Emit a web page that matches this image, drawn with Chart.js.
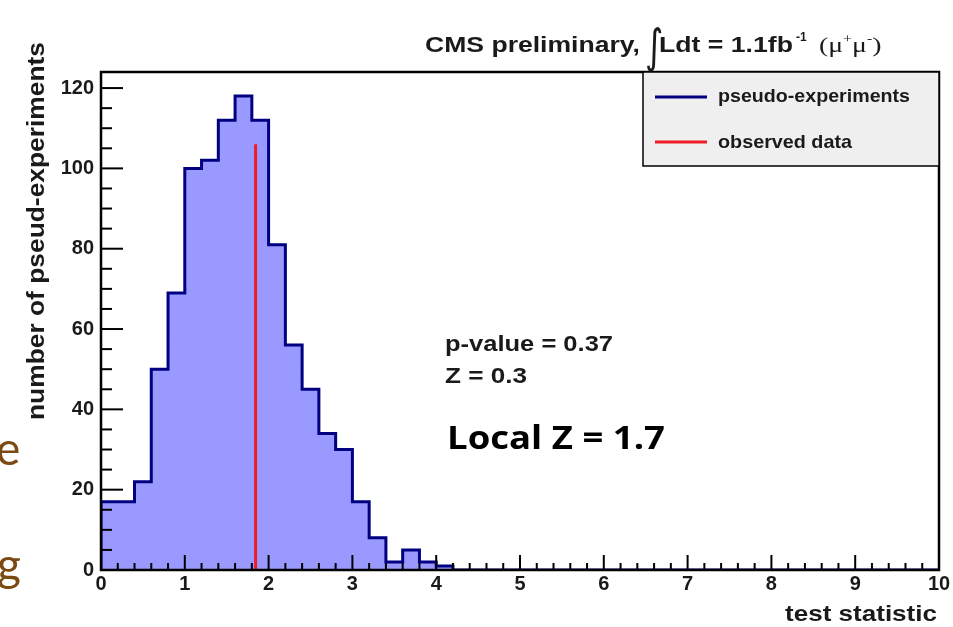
<!DOCTYPE html>
<html>
<head>
<meta charset="utf-8">
<script src="https://cdn.jsdelivr.net/npm/chart.js@4.4.1/dist/chart.umd.min.js"></script>
<style>
  html, body { margin: 0; padding: 0; background: #fff; }
</style>
</head>
<body>
<canvas id="histChart" width="953" height="627"></canvas>
<script>
// Datos del histograma (conteo por bin de 0.2)
const counts = [17, 17, 22, 50, 69, 100, 102, 112, 118, 112,
                81, 56, 45, 34, 30, 17, 8, 2, 5, 2,
                1, 0, 0, 0, 0, 0, 0, 0, 0, 0,
                0, 0, 0, 0, 0, 0, 0, 0, 0, 0,
                0, 0, 0, 0, 0, 0, 0, 0, 0, 0];
const binWidth = 0.2;
const xRange = [0, 10];
const yRange = [0, 124];
const xTickLabels = [0, 1, 2, 3, 4, 5, 6, 7, 8, 9, 10];
const yTickLabels = [0, 20, 40, 60, 80, 100, 120];
const observedX = 1.845;
const observedTop = 106;

const colors = {
    fill: '#9999ff',
    outline: '#000080',
    observed: '#ee1c25',
    text: '#1a1a1a',
    legendBg: '#efefef',
    slide: '#7a4a12'
};

const HELV = '"Liberation Sans", Arial, sans-serif';

// puntos del histograma en los bordes inferiores de cada bin
const histPoints = [{ x: xRange[0], y: 0 }];
counts.forEach(function (c, i) {
    histPoints.push({ x: xRange[0] + i * binWidth, y: c });
});
histPoints.push({ x: xRange[1], y: counts[counts.length - 1] });

const observedPoints = [{ x: observedX, y: 0 }, { x: observedX, y: observedTop }];

// texto ajustado a un ancho dado
function fitText(ctx, text, x, y, width, font) {
    ctx.font = font;
    const w = ctx.measureText(text).width;
    ctx.save();
    ctx.translate(x, y);
    ctx.scale(width / w, 1);
    ctx.textAlign = 'left';
    ctx.textBaseline = 'alphabetic';
    ctx.fillText(text, 0, 0);
    ctx.restore();
}

function seg(ctx, x1, y1, x2, y2) {
    ctx.beginPath();
    ctx.moveTo(x1, y1);
    ctx.lineTo(x2, y2);
    ctx.stroke();
}

const rootStyle = {
    id: 'rootStyle',
    beforeDraw(chart) {
        const ctx = chart.ctx;
        ctx.save();
        ctx.fillStyle = '#fff';
        ctx.fillRect(0, 0, chart.width, chart.height);
        ctx.restore();
    },
    afterDatasetsDraw(chart) {
        const ctx = chart.ctx;
        const a = chart.chartArea;
        const xs = chart.scales.x;
        const ys = chart.scales.y;
        ctx.save();

        // ticks hacia adentro
        ctx.strokeStyle = '#000';
        ctx.lineWidth = 2;
        for (let v = 0; v <= yTickLabels[yTickLabels.length - 1]; v += 5) {
            const py = ys.getPixelForValue(v);
            seg(ctx, a.left, py, a.left + (v % 20 === 0 ? 22 : 11), py);
        }
        for (let k = 0; k <= 50; k++) {
            const px = xs.getPixelForValue(k * binWidth);
            seg(ctx, px, a.bottom, px, a.bottom - (k % 5 === 0 ? 15 : 7));
        }

        // marco
        ctx.lineWidth = 2.5;
        ctx.strokeRect(a.left, a.top, a.right - a.left, a.bottom - a.top);

        // leyenda
        ctx.fillStyle = colors.legendBg;
        ctx.fillRect(643, a.top, a.right - 643, 94);
        ctx.lineWidth = 1.5;
        ctx.strokeRect(643, a.top, a.right - 643, 94);
        ctx.lineWidth = 3;
        ctx.strokeStyle = colors.outline;
        seg(ctx, 655, 97, 707, 97);
        ctx.strokeStyle = colors.observed;
        seg(ctx, 655, 142, 707, 142);
        ctx.fillStyle = colors.text;
        fitText(ctx, 'pseudo-experiments', 718, 102, 192, 'bold 19px ' + HELV);
        fitText(ctx, 'observed data', 718, 148, 134, 'bold 19px ' + HELV);

        // anotaciones
        fitText(ctx, 'p-value = 0.37', 445, 351, 168, 'bold 22px ' + HELV);
        fitText(ctx, 'Z = 0.3', 445, 383, 82, 'bold 22px ' + HELV);
        ctx.fillStyle = '#000';
        fitText(ctx, 'Local Z = 1.7', 447, 449, 218, 'bold 32px "Open Sans", sans-serif');

        // título
        ctx.fillStyle = colors.text;
        fitText(ctx, 'CMS preliminary,', 425, 52, 215, 'bold 22px ' + HELV);
        ctx.save();
        ctx.translate(645, 62);
        ctx.scale(0.8, 1.05);
        ctx.font = '44px "DejaVu Sans"';
        ctx.fillText('\u222B', 0, 0);
        ctx.restore();
        fitText(ctx, 'Ldt = 1.1fb', 659, 52, 134, 'bold 22px ' + HELV);
        ctx.font = 'bold 12px ' + HELV;
        ctx.fillText('-1', 796, 41);
        ctx.save();
        ctx.translate(819, 0);
        ctx.scale(1.32, 1);
        let cx = 0;
        const runs = [['(\u03BC', 21, 52], ['+', 12, 43], ['\u03BC', 21, 52], ['-', 12, 43], [')', 21, 52]];
        runs.forEach(function (r) {
            ctx.font = r[1] + 'px "Liberation Serif", serif';
            ctx.fillText(r[0], cx, r[2]);
            cx += ctx.measureText(r[0]).width;
        });
        ctx.restore();

        // títulos de ejes
        fitText(ctx, 'test statistic', 785, 621, 152, 'bold 22px ' + HELV);
        ctx.save();
        ctx.translate(44, 231);
        ctx.rotate(-Math.PI / 2);
        fitText(ctx, 'number of pseud-experiments', -189, 0, 378, 'bold 24px ' + HELV);
        ctx.restore();

        // restos de la diapositiva a la izquierda
        ctx.fillStyle = colors.slide;
        ctx.font = '46px Lato, sans-serif';
        ctx.fillText('e', -4, 465);
        ctx.fillText('g', -3, 581);

        ctx.restore();
    }
};

const ctx = document.getElementById('histChart').getContext('2d');
new Chart(ctx, {
    type: 'line',
    data: {
        datasets: [{
            label: 'pseudo-experiments',
            data: histPoints,
            order: 1,
            stepped: 'before',
            fill: 'origin',
            backgroundColor: colors.fill,
            borderColor: colors.outline,
            borderWidth: 3,
            borderJoinStyle: 'miter',
            pointRadius: 0
        }, {
            label: 'observed data',
            data: observedPoints,
            order: 0,
            fill: false,
            borderColor: colors.observed,
            borderWidth: 3,
            pointRadius: 0
        }]
    },
    plugins: [rootStyle],
    options: {
        responsive: false,
        animation: false,
        layout: {
            padding: { left: 0, top: 72, right: 14, bottom: 0 }
        },
        plugins: {
            legend: { display: false },
            tooltip: { enabled: false },
            title: { display: false }
        },
        scales: {
            x: {
                type: 'linear',
                min: xRange[0],
                max: xRange[1],
                afterBuildTicks: function (scale) {
                    scale.ticks = xTickLabels.map(function (v) { return { value: v }; });
                },
                afterFit: function (scale) { scale.height = 57; },
                grid: { display: false, drawTicks: false },
                border: { display: false },
                ticks: {
                    autoSkip: false,
                    maxRotation: 0,
                    padding: 2,
                    color: colors.text,
                    font: { family: HELV, size: 20, weight: 'bold' }
                }
            },
            y: {
                min: yRange[0],
                max: yRange[1],
                afterBuildTicks: function (scale) {
                    scale.ticks = yTickLabels.map(function (v) { return { value: v }; });
                },
                afterFit: function (scale) { scale.width = 101; },
                grid: { display: false, drawTicks: false },
                border: { display: false },
                ticks: {
                    padding: 7,
                    color: colors.text,
                    font: { family: HELV, size: 20, weight: 'bold' }
                }
            }
        }
    }
});
</script>
</body>
</html>
